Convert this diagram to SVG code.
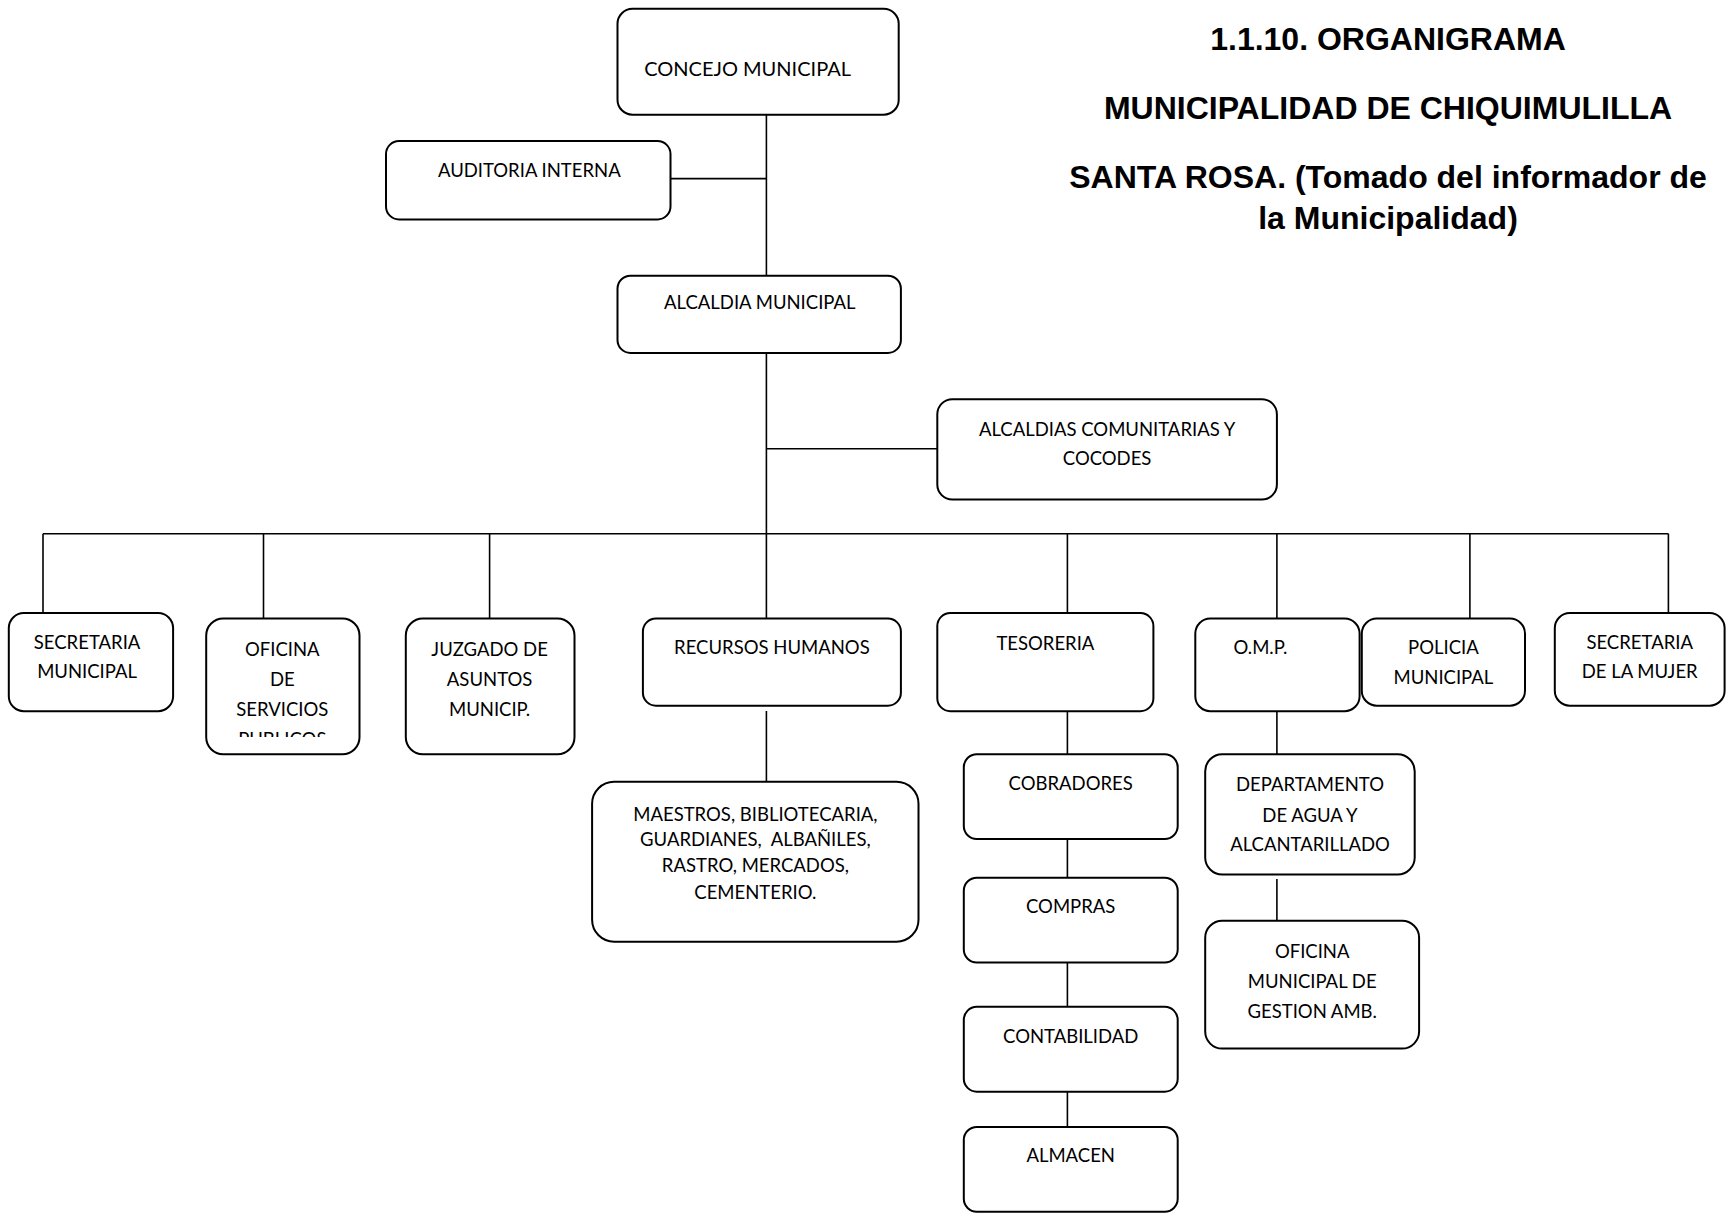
<svg xmlns="http://www.w3.org/2000/svg" width="1729" height="1213" viewBox="0 0 1729 1213">
<style>
.box{fill:#fff;stroke:#000;stroke-width:2}
.t{font-family:Lato,"Liberation Sans",sans-serif;font-size:18.5px;fill:#000;text-anchor:middle}
.title{font-family:"Liberation Sans",Arial,sans-serif;font-weight:bold;font-size:32px;fill:#000;text-anchor:middle}
.ln{stroke:#000;stroke-width:1.6;fill:none}
</style>
<defs>
<clipPath id="clipOSP"><rect x="200" y="610" width="170" height="127"/></clipPath>
</defs>
<rect width="1729" height="1213" fill="#fff"/>
<g id="title">
<text class="title" x="1388" y="50">1.1.10. ORGANIGRAMA</text>
<text class="title" x="1388" y="118.5">MUNICIPALIDAD DE CHIQUIMULILLA</text>
<text class="title" x="1388" y="188">SANTA ROSA. (Tomado del informador de</text>
<text class="title" x="1388" y="229">la Municipalidad)</text>
</g>
<g id="connectors">
<line class="ln" x1="766.4" y1="114.7" x2="766.4" y2="275.7"/>
<line class="ln" x1="766.4" y1="352.9" x2="766.4" y2="618.6"/>
<line class="ln" x1="644.5" y1="178.6" x2="766.4" y2="178.6"/>
<line class="ln" x1="766.4" y1="448.8" x2="937.3" y2="448.8"/>
<line class="ln" x1="43" y1="533.7" x2="1668.4" y2="533.7"/>
<line class="ln" x1="43" y1="533.7" x2="43" y2="613.1"/>
<line class="ln" x1="263.5" y1="533.7" x2="263.5" y2="618.6"/>
<line class="ln" x1="489.6" y1="533.7" x2="489.6" y2="618.6"/>
<line class="ln" x1="1067.4" y1="533.7" x2="1067.4" y2="613.1"/>
<line class="ln" x1="1276.9" y1="533.7" x2="1276.9" y2="618.6"/>
<line class="ln" x1="1469.9" y1="533.7" x2="1469.9" y2="618.6"/>
<line class="ln" x1="1668.4" y1="533.7" x2="1668.4" y2="613.1"/>
<line class="ln" x1="766.4" y1="711" x2="766.4" y2="781.8"/>
<line class="ln" x1="1067.4" y1="711.3" x2="1067.4" y2="754.2"/>
<line class="ln" x1="1067.4" y1="822.6" x2="1067.4" y2="877.7"/>
<line class="ln" x1="1067.4" y1="962.6" x2="1067.4" y2="1006.8"/>
<line class="ln" x1="1067.4" y1="1091.7" x2="1067.4" y2="1126.9"/>
<line class="ln" x1="1276.9" y1="711.3" x2="1276.9" y2="754.2"/>
<line class="ln" x1="1276.9" y1="878.9" x2="1276.9" y2="920.7"/>
</g>
<g id="concejo"><rect class="box" x="617.5" y="8.8" width="281.2" height="105.9" rx="15"/><text class="t" x="747.6" y="75.5" style="font-size:20px">CONCEJO MUNICIPAL</text></g>
<g id="auditoria"><rect class="box" x="386" y="141.1" width="284.5" height="78.3" rx="13"/><text class="t" x="529.3" y="176.5">AUDITORIA INTERNA</text></g>
<g id="alcaldia"><rect class="box" x="617.5" y="275.7" width="283.4" height="77.2" rx="13"/><text class="t" x="759.8" y="308.8">ALCALDIA MUNICIPAL</text></g>
<g id="alcaldias-com"><rect class="box" x="937.3" y="399.2" width="339.6" height="100.3" rx="15"/><text class="t" x="1107.1" y="435.7">ALCALDIAS COMUNITARIAS Y</text><text class="t" x="1107.1" y="465.4">COCODES</text></g>
<g id="secretaria-mun"><rect class="box" x="8.8" y="613.1" width="164.3" height="98.1" rx="15"/><text class="t" x="87.1" y="648.5">SECRETARIA</text><text class="t" x="87.1" y="678.2">MUNICIPAL</text></g>
<g id="oficina-sp"><rect class="box" x="206.2" y="618.6" width="153.3" height="135.6" rx="17"/><g clip-path="url(#clipOSP)"><text class="t" x="282.3" y="656.2">OFICINA</text><text class="t" x="282.3" y="686">DE</text><text class="t" x="282.3" y="715.7">SERVICIOS</text><text class="t" x="282.3" y="745.5">PUBLICOS</text></g></g>
<g id="juzgado"><rect class="box" x="405.8" y="618.6" width="168.7" height="135.6" rx="17"/><text class="t" x="489.6" y="656.2">JUZGADO DE</text><text class="t" x="489.6" y="686">ASUNTOS</text><text class="t" x="489.6" y="715.7">MUNICIP.</text></g>
<g id="rrhh"><rect class="box" x="642.9" y="618.6" width="258" height="87.1" rx="13"/><text class="t" x="771.9" y="654">RECURSOS HUMANOS</text></g>
<g id="tesoreria"><rect class="box" x="937.3" y="613.1" width="216.1" height="98.1" rx="13"/><text class="t" x="1045.4" y="649.6">TESORERIA</text></g>
<g id="omp"><rect class="box" x="1195.3" y="618.6" width="164.3" height="92.6" rx="15"/><text class="t" x="1260.4" y="654">O.M.P.</text></g>
<g id="policia"><rect class="box" x="1361.8" y="618.6" width="163.2" height="87.1" rx="15"/><text class="t" x="1443.4" y="654">POLICIA</text><text class="t" x="1443.4" y="683.7">MUNICIPAL</text></g>
<g id="sec-mujer"><rect class="box" x="1554.8" y="613.1" width="169.8" height="92.6" rx="15"/><text class="t" x="1639.7" y="648.5">SECRETARIA</text><text class="t" x="1639.7" y="678.2">DE LA MUJER</text></g>
<g id="maestros"><rect class="box" x="592.1" y="781.8" width="326.4" height="159.9" rx="22"/><text class="t" x="755.4" y="820.5">MAESTROS, BIBLIOTECARIA,</text><text class="t" x="755.4" y="845.9" style="white-space:pre">GUARDIANES,  ALBAÑILES,</text><text class="t" x="755.4" y="872.3">RASTRO, MERCADOS,</text><text class="t" x="755.4" y="898.8">CEMENTERIO.</text></g>
<g id="cobradores"><rect class="box" x="963.8" y="754.2" width="213.9" height="84.9" rx="13"/><text class="t" x="1070.7" y="789.6">COBRADORES</text></g>
<g id="compras"><rect class="box" x="963.8" y="877.7" width="213.9" height="84.9" rx="13"/><text class="t" x="1070.7" y="913.1">COMPRAS</text></g>
<g id="contabilidad"><rect class="box" x="963.8" y="1006.8" width="213.9" height="84.9" rx="13"/><text class="t" x="1070.7" y="1043.2">CONTABILIDAD</text></g>
<g id="almacen"><rect class="box" x="963.8" y="1126.9" width="213.9" height="84.9" rx="13"/><text class="t" x="1070.7" y="1162.3">ALMACEN</text></g>
<g id="depto-agua"><rect class="box" x="1205.2" y="754.2" width="209.5" height="120.2" rx="17"/><text class="t" x="1310" y="790.7">DEPARTAMENTO</text><text class="t" x="1310" y="821.6">DE AGUA Y</text><text class="t" x="1310" y="851.4">ALCANTARILLADO</text></g>
<g id="oficina-gestion"><rect class="box" x="1205.2" y="920.7" width="213.9" height="127.9" rx="17"/><text class="t" x="1312.2" y="958.3">OFICINA</text><text class="t" x="1312.2" y="988.1">MUNICIPAL DE</text><text class="t" x="1312.2" y="1017.9">GESTION AMB.</text></g>
</svg>
